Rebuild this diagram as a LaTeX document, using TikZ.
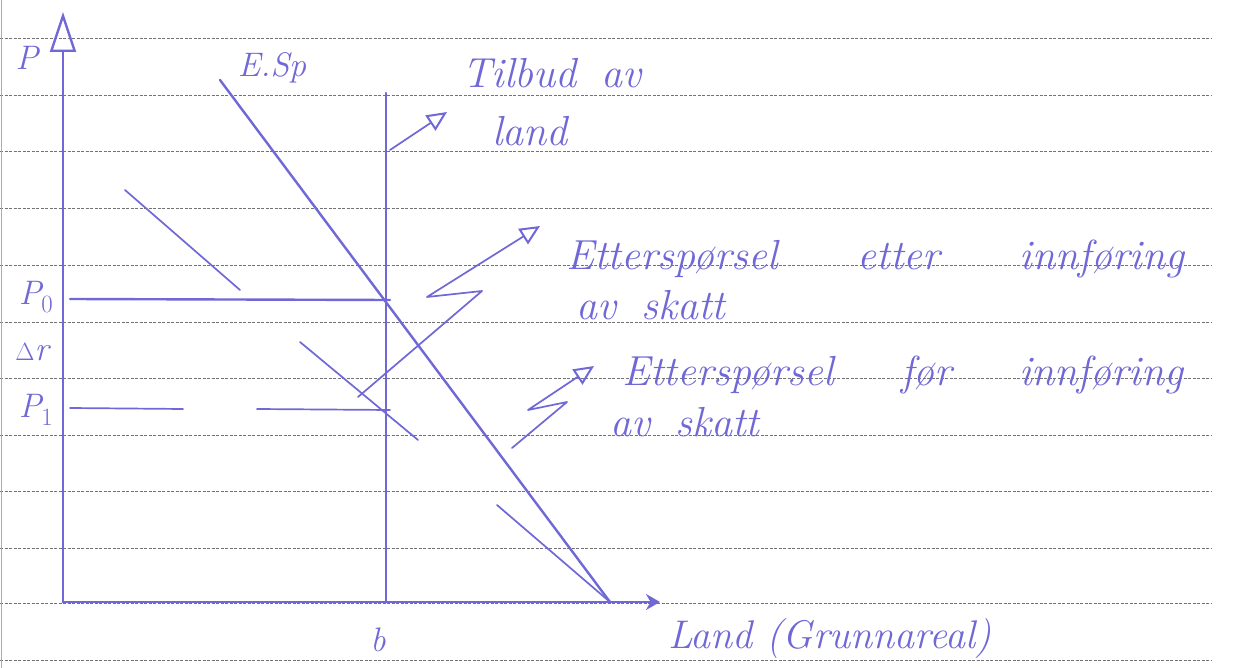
\documentclass[tikz,border=0pt]{standalone}
\usepackage{fontspec}
\usetikzlibrary{arrows.meta}
\definecolor{pen}{RGB}{112,104,214}
\definecolor{rulegray}{RGB}{115,115,115}
\begin{document}
\begin{tikzpicture}[x=1pt,y=-1pt,
  ink/.style={draw=pen,line width=2.4pt,line cap=round,line join=round},
  thinink/.style={draw=pen,line width=1.7pt,line cap=round,line join=round},
  ruled/.style={draw=rulegray,line width=0.9pt,dash pattern=on 3pt off 1.5pt},
  hand/.style={text=pen,font=\fontsize{42}{46}\selectfont\itshape,inner sep=0pt,anchor=base west},
  lbl/.style={text=pen,font=\fontsize{34}{38}\selectfont\itshape,inner sep=0pt},
  openhead/.style={-{Triangle[open,length=20pt,width=18pt,line width=2pt]}}]
\useasboundingbox (0,0) rectangle (1243,668);
\fill[white] (0,0) rectangle (1243,668);
% ruled paper
\foreach \y in {38,95,151,208,265,322,378,435,491,548,603,660}
  \draw[ruled] (0,\y) -- (1212,\y);
\draw[rulegray!60,line width=1.5pt] (1.5,0) -- (1.5,668);
% coordinates
\coordinate (O) at (63,602);
\coordinate (Ytop) at (63,12);
\coordinate (Xend) at (660,602);
\coordinate (Stop) at (386,93);
\coordinate (Sbot) at (386,602);
\coordinate (D0a) at (220,80);
\coordinate (Eq) at (610,602);
\coordinate (D1a) at (125,190);
\coordinate (D1b) at (240,290);
\coordinate (D1c) at (300,342);
\coordinate (D1d) at (418,440);
\coordinate (D1e) at (497,505);
\coordinate (P0a) at (70,299);
\coordinate (P0b) at (390,300);
\coordinate (P1a) at (70,408);
\coordinate (P1b) at (183,409);
\coordinate (P1c) at (257,409);
\coordinate (P1d) at (390,410);
% axes
\draw[ink,line width=2.8pt,-{Triangle[open,length=40pt,width=26pt,line width=2.4pt]}] (O) -- (Ytop);
\draw[ink,line width=2.8pt,-{Stealth[length=14pt,width=16pt]}] (O) -- (Xend);
% supply (vertical)
\draw[ink] (Sbot) -- (Stop);
% demand before tax
\draw[ink] (D0a) -- (Eq);
% demand after tax (broken)
\draw[thinink] (D1a) -- (D1b);
\draw[thinink] (D1c) -- (D1d);
\draw[thinink] (D1e) -- (Eq);
% price levels
\draw[ink] (P0a) -- (P0b);
\draw[thinink] (P1a) -- (P1b);
\draw[thinink] (P1c) -- (P1d);
% pointer arrows
\coordinate (A1s) at (390,150);
\coordinate (A1e) at (447,112);
\draw[thinink,openhead] (A1s) -- (A1e);
\coordinate (A2s) at (358,397);
\coordinate (A2m) at (482,291);
\coordinate (A2n) at (427,297);
\coordinate (A2e) at (540,226);
\draw[thinink,openhead] (A2s) -- (A2m) -- (A2n) -- (A2e);
\coordinate (A3s) at (512,448);
\coordinate (A3m) at (567,402);
\coordinate (A3n) at (528,410);
\coordinate (A3e) at (594,366);
\draw[thinink,openhead] (A3s) -- (A3m) -- (A3n) -- (A3e);
% labels
\node[lbl] (lP) at (27,58) {P};
\node[lbl] (lP0) at (36,297) {P$_0$};
\node[lbl] (lDr) at (32,352) {$\Delta$r};
\node[lbl] (lP1) at (36,410) {P$_1$};
\node[lbl] (lb) at (378,640) {b};
\node[lbl] (lE) at (272,68) {E.Sp};
\node[hand] (t1) at (462,88) {Tilbud\hspace{0.6em}av};
\node[hand] (t2) at (492,146) {land};
\node[hand] (e1) at (566,270) {Etterspørsel\hspace{1.9em}etter\hspace{1.9em}innføring};
\node[hand] (e2) at (576,320) {av\hspace{0.6em}skatt};
\node[hand] (f1) at (622,386) {Etterspørsel\hspace{1.6em}før\hspace{1.6em}innføring};
\node[hand] (f2) at (610,436) {av\hspace{0.6em}skatt};
\node[hand] (q) at (668,648) {\fontsize{40}{44}\selectfont Land (Grunnareal)};
\end{tikzpicture}
\end{document}
